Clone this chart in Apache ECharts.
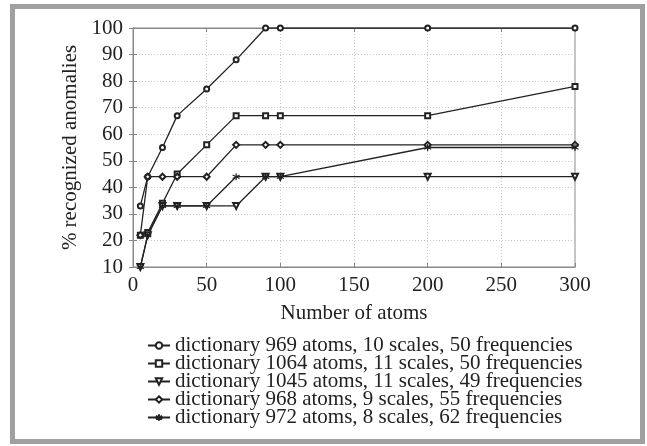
<!DOCTYPE html>
<html>
<head>
<meta charset="utf-8">
<script src="https://cdn.jsdelivr.net/npm/echarts@6/dist/echarts.min.js"></script>
<style>
  html, body { margin: 0; padding: 0; background: #fff; }
  #chart { width: 647px; height: 446px; }
</style>
</head>
<body>
<div id="chart"></div>
<script>
// number of atoms on x
const atoms = [5, 10, 20, 30, 50, 70, 90, 100, 200, 300];
// % recognized anomalies per dictionary
const dict969 = [33, 44, 55, 67, 77, 88, 100, 100, 100, 100];
const dict1064 = [22, 23, 34, 45, 56, 67, 67, 67, 67, 78];
const dict1045 = [10, 22, 33, 33, 33, 33, 44, 44, 44, 44];
const dict968 = [22, 44, 44, 44, 44, 56, 56, 56, 56, 56];
const dict972 = [10, 22, 33, 33, 33, 44, 44, 44, 55, 55];
const names = [
  'dictionary 969 atoms, 10 scales, 50 frequencies',
  'dictionary 1064 atoms, 11 scales, 50 frequencies',
  'dictionary 1045 atoms, 11 scales, 49 frequencies',
  'dictionary 968 atoms, 9 scales, 55 frequencies',
  'dictionary 972 atoms, 8 scales, 62 frequencies'
];

const FONT = '"Liberation Serif", "DejaVu Serif", serif';
const INK = '#222';
const asterisk = 'path://M0,-5L0,5M-4.33,-2.5L4.33,2.5M-4.33,2.5L4.33,-2.5';

function pairs(ys) {
  return atoms.map((x, i) => [x, ys[i]]);
}

function mkSeries(name, ys, symbol, size, rotate) {
  return {
    name: name,
    type: 'line',
    data: pairs(ys),
    symbol: symbol,
    symbolSize: size,
    symbolRotate: rotate || 0,
    showAllSymbol: true,
    lineStyle: { color: INK, width: 1.3 },
    itemStyle: { color: INK, borderColor: INK, borderWidth: 1.2 },
    emphasis: { disabled: true },
    animation: false
  };
}

const chart = echarts.init(document.getElementById('chart'));
chart.setOption({
  backgroundColor: '#fff',
  animation: false,
  textStyle: { fontFamily: FONT },
  graphic: [{
    type: 'rect',
    shape: { x: 12.5, y: 6.5, width: 630, height: 435 },
    style: { fill: 'none', stroke: '#a0a0a0', lineWidth: 5 },
    silent: true
  }],
  grid: {
    left: 133, right: 72, top: 28, bottom: 179,
    show: true, borderColor: '#888', borderWidth: 1
  },
  legend: {
    orient: 'vertical',
    left: 142,
    top: 330,
    itemWidth: 22,
    itemHeight: 8,
    itemGap: -3,
    textStyle: { fontFamily: FONT, fontSize: 21, color: INK, lineHeight: 18 },
    data: names
  },
  xAxis: [{
    type: 'value',
    min: 0, max: 300, interval: 50,
    name: 'Number of atoms',
    nameLocation: 'middle',
    nameGap: 46,
    nameTextStyle: { fontFamily: FONT, fontSize: 21, color: INK, verticalAlign: 'middle' },
    axisLine: { show: true, lineStyle: { color: '#888' } },
    axisTick: { show: true, inside: true, length: 4, lineStyle: { color: '#888' } },
    axisLabel: { fontFamily: FONT, fontSize: 21, color: INK, margin: 8 },
    splitLine: { show: true, lineStyle: { color: '#c8c8c8', type: [1, 2] } }
  }, {
    type: 'value', position: 'top',
    min: 0, max: 300, interval: 50,
    axisLine: { show: true, lineStyle: { color: '#888' } },
    axisTick: { show: true, inside: true, length: 4, lineStyle: { color: '#888' } },
    axisLabel: { show: false },
    splitLine: { show: false }
  }],
  yAxis: [{
    type: 'value',
    min: 10, max: 100, interval: 10,
    name: '% recognized anomalies',
    nameLocation: 'middle',
    nameGap: 55,
    nameTextStyle: { fontFamily: FONT, fontSize: 21, color: INK, verticalAlign: 'middle' },
    axisLine: { show: true, lineStyle: { color: '#888' } },
    axisTick: { show: true, inside: true, length: 4, lineStyle: { color: '#888' } },
    axisLabel: { fontFamily: FONT, fontSize: 21, color: INK, margin: 10 },
    splitLine: { show: true, lineStyle: { color: '#c8c8c8', type: [1, 2] } }
  }, {
    type: 'value', position: 'right',
    min: 10, max: 100, interval: 10,
    axisLine: { show: true, lineStyle: { color: '#888' } },
    axisTick: { show: true, inside: true, length: 4, lineStyle: { color: '#888' } },
    axisLabel: { show: false },
    splitLine: { show: false }
  }],
  series: [
    mkSeries(names[0], dict969, 'emptyCircle', 5),
    mkSeries(names[1], dict1064, 'emptyRect', 5),
    mkSeries(names[2], dict1045, 'emptyTriangle', 6, 180),
    mkSeries(names[3], dict968, 'emptyDiamond', 6),
    mkSeries(names[4], dict972, asterisk, 7)
  ]
});
</script>
</body>
</html>
